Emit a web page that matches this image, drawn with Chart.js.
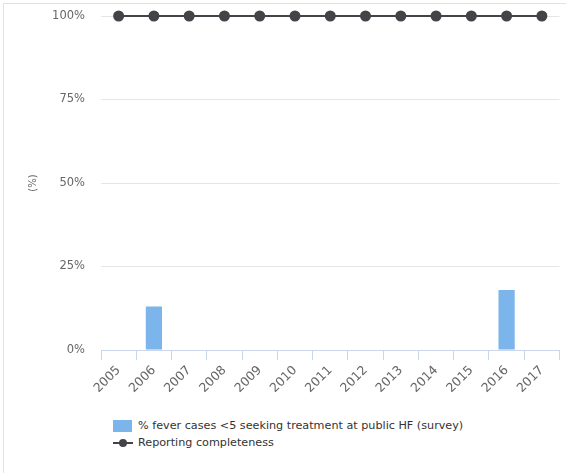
<!DOCTYPE html>
<html>
<head>
<meta charset="utf-8">
<script src="https://cdn.jsdelivr.net/npm/chart.js@4"></script>
<style>
  body { margin: 0; background: #fff; font-family: "DejaVu Sans", sans-serif; }
  #wrap { position: relative; width: 566px; height: 473px; overflow: hidden; }
  #frame { position: absolute; left: 3px; top: 3px; width: 600px; height: 600px; border-left: 1px solid #e2e2e2; border-top: 1px solid #e2e2e2; }
  #c { position: absolute; left: 0; top: 0; }
  #legend { position: absolute; left: 113px; top: 417px; font-size: 11.2px; color: #333; }
  .item { height: 17px; display: flex; align-items: center; }
  .item svg { margin-right: 5px; }
</style>
</head>
<body>
<div id="wrap">
  <div id="frame"></div>
  <canvas id="c" width="566" height="410"></canvas>
  <div id="legend">
    <div class="item"><svg width="20" height="12"><rect x="0" y="0" width="19" height="12" fill="#7cb5ec"/></svg><span>% fever cases &lt;5 seeking treatment at public HF (survey)</span></div>
    <div class="item"><svg width="20" height="12"><line x1="0" y1="6" x2="20" y2="6" stroke="#434348" stroke-width="2"/><circle cx="10" cy="6" r="4" fill="#434348"/></svg><span>Reporting completeness</span></div>
  </div>
</div>
<script>
const years = ["2005","2006","2007","2008","2009","2010","2011","2012","2013","2014","2015","2016","2017"];
const feverSeeking = [null, 13, null, null, null, null, null, null, null, null, null, 18, null];
const completeness = [100, 100, 100, 100, 100, 100, 100, 100, 100, 100, 100, 100, 100];
const yTicks = [0, 25, 50, 75, 100];

new Chart(document.getElementById("c"), {
  type: "bar",
  data: {
    labels: years,
    datasets: [
      {
        type: "line",
        label: "Reporting completeness",
        data: completeness,
        borderColor: "#434348",
        backgroundColor: "#434348",
        borderWidth: 2,
        pointRadius: 4.5,
        pointHoverRadius: 4.5,
        clip: false,
        order: 0
      },
      {
        label: "% fever cases <5 seeking treatment at public HF (survey)",
        data: feverSeeking,
        backgroundColor: "#7cb5ec",
        barPercentage: 0.46,
        categoryPercentage: 1,
        order: 1
      }
    ]
  },
  options: {
    responsive: false,
    animation: false,
    layout: { padding: { top: 16, right: 6, left: 0, bottom: 0 } },
    plugins: { legend: { display: false }, tooltip: { enabled: false } },
    scales: {
      x: {
        offset: true,
        grid: { offset: true, drawOnChartArea: false, tickLength: 10, color: "#ccd6eb" },
        border: { color: "#ccd6eb" },
        ticks: { font: { family: "DejaVu Sans", size: 12.5 }, color: "#666", maxRotation: 45, minRotation: 45, autoSkip: false },
        afterFit: (s) => { s.height = 60; }
      },
      y: {
        min: 0,
        max: 100,
        afterBuildTicks: (s) => { s.ticks = yTicks.map(v => ({ value: v })); },
        grid: { color: "#e6e6e6", drawTicks: false },
        border: { display: false },
        ticks: { font: { family: "DejaVu Sans", size: 11.5 }, color: "#666", padding: 16, callback: (v) => v + "%" },
        title: { display: true, text: "(%)", font: { family: "DejaVu Sans", size: 10 }, color: "#666", padding: { top: 27, bottom: 0 } },
        afterFit: (s) => { s.width = 101; s.paddingTop = 0; s.paddingBottom = 0; }
      }
    }
  }
});
</script>
</body>
</html>
